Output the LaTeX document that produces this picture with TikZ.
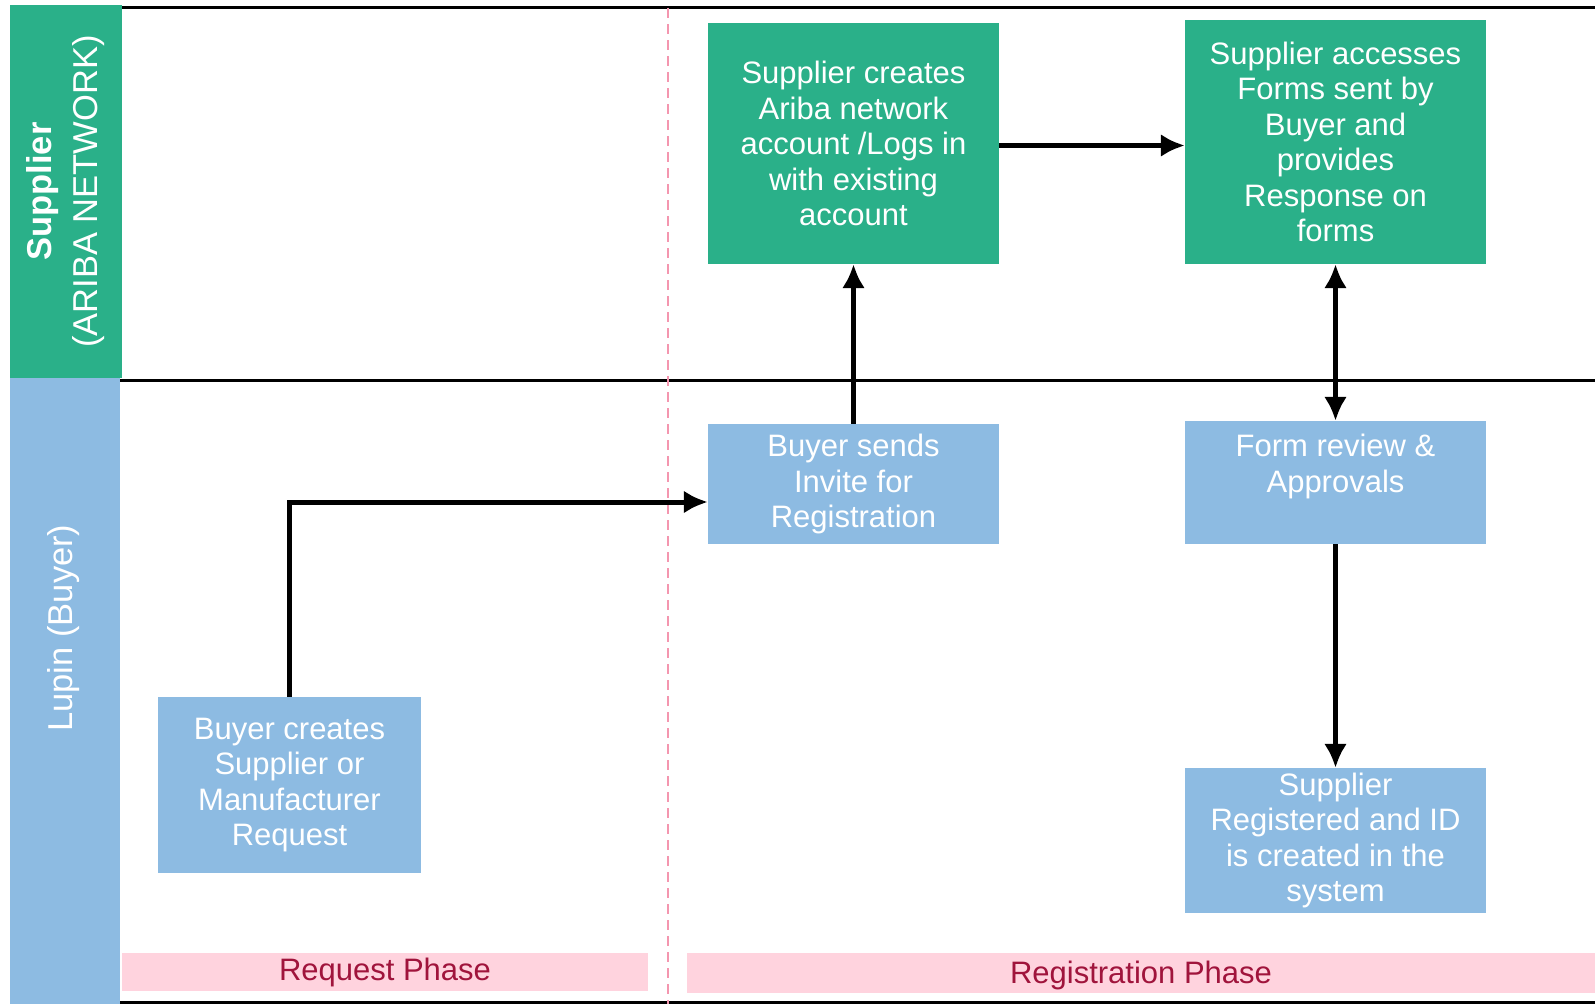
\documentclass[tikz,border=0pt]{standalone}
\usepackage{fontspec}
\setmainfont{Liberation Sans}
\usetikzlibrary{arrows.meta}
\definecolor{lanegreen}{RGB}{42,176,137}
\definecolor{laneblue}{RGB}{141,187,226}
\definecolor{phasepink}{RGB}{255,211,222}
\definecolor{phasered}{RGB}{160,20,60}
\definecolor{dashpink}{RGB}{244,150,175}
\begin{document}
\begin{tikzpicture}[x=1pt, y=-1pt,
  greenbox/.style={rectangle, fill=lanegreen, text=white, align=center, inner sep=0pt,
    font=\fontsize{31}{35.5}\selectfont},
  bluebox/.style={greenbox, fill=laneblue},
  lanetext/.style={text=white, align=center, inner sep=0pt, font=\fontsize{34.5}{46}\selectfont},
  phasebar/.style={rectangle, fill=phasepink, text=phasered, inner sep=0pt,
    font=\fontsize{31}{36}\selectfont},
  laneline/.style={line width=3pt},
  flow/.style={line width=5pt, ->, >={Latex[length=24pt, width=23pt]}}]
\useasboundingbox (0,0) rectangle (1595,1004);

% lanes
\node[lanetext, fill=lanegreen, rotate=90, minimum width=373pt, minimum height=112pt]
  (supplier) at (66,191.5) {\textbf{Supplier}\\(ARIBA NETWORK)};
\node[fill=laneblue, minimum width=110pt, minimum height=626pt, inner sep=0pt] (buyer) at (65,691) {};
\node[lanetext, rotate=90] (buyerlabel) at (64,628) {Lupin (Buyer)};

\draw[laneline] (122,7) -- (1595,7);
\draw[laneline] (120,380) -- (1595,380);
\draw[laneline] (120,1002) -- (1595,1002);
\draw[dashpink, line width=1.5pt, dash pattern=on 10pt off 6pt] (668,8) -- (668,1004);

% phases
\node[phasebar, minimum width=526pt, minimum height=38pt] (reqphase) at (385,972) {Request Phase};
\node[phasebar, minimum width=908pt, minimum height=40pt, text height=27pt] (regphase) at (1141,973) {Registration Phase};

% steps
\node[greenbox, minimum width=291pt, minimum height=241pt] (acct) at (853.5,143.5)
  {Supplier creates\\Ariba network\\account /Logs in\\with existing\\account};
\node[greenbox, minimum width=301pt, minimum height=244pt] (forms) at (1335.5,142)
  {Supplier accesses\\Forms sent by\\Buyer and\\provides\\Response on\\forms};
\node[bluebox, minimum width=291pt, minimum height=120pt] (invite) at (853.5,484)
  {Buyer sends\\Invite for\\Registration};
\node[bluebox, minimum width=301pt, minimum height=123pt, text depth=38pt] (review) at (1335.5,482.5)
  {Form review \&\\Approvals};
\node[bluebox, minimum width=263pt, minimum height=176pt] (request) at (289.5,785)
  {Buyer creates\\Supplier or\\Manufacturer\\Request};
\node[bluebox, minimum width=301pt, minimum height=145pt] (registered) at (1335.5,840.5)
  {Supplier\\Registered and ID\\is created in the\\system};

\draw[flow] (request.north) |- ([yshift=-18pt]invite.west);
\draw[flow] (invite.north) -- (acct.south);
\draw[flow] ([yshift=-2pt]acct.east) -- ([yshift=-2pt]acct.east -| forms.west);
\draw[flow, <->] (forms.south) -- (review.north);
\draw[flow] (review.south) -- (registered.north);
\end{tikzpicture}
\end{document}
